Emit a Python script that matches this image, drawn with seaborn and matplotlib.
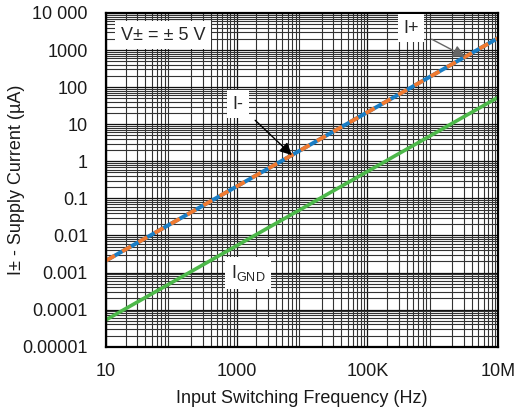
#supply current vs input switching frequency, log-log chart

import matplotlib
matplotlib.use("Agg")
import matplotlib.pyplot as plt
import matplotlib.ticker as mticker
import seaborn as sns
import pandas as pd

#data
freq = [10, 100, 1000, 10000, 100000, 1000000, 10000000]
i_neg = [0.0021, 0.021, 0.21, 2.1, 21, 210, 2100]
i_pos = [0.0021, 0.021, 0.21, 2.1, 21, 210, 2100]
i_gnd = [0.000053, 0.00053, 0.0053, 0.053, 0.53, 5.3, 53]

x_ticks = [10, 1000, 100000, 10000000]
x_labels = ["10", "1000", "100K", "10M"]
y_ticks = [0.00001, 0.0001, 0.001, 0.01, 0.1, 1, 10, 100, 1000, 10000]
y_labels = ["0.00001", "0.0001", "0.001", "0.01", "0.1", "1", "10", "100", "1000", "10 000"]

sns.set_style("white")
plt.rcParams['font.family'] = ['Liberation Sans', 'DejaVu Sans']

df = pd.DataFrame({"freq": freq, "i_neg": i_neg, "i_pos": i_pos, "i_gnd": i_gnd})

fig, ax = plt.subplots(figsize=(5.26, 4.15), dpi=100)
fig.subplots_adjust(left=0.2015, right=0.9468, top=0.9687, bottom=0.1646)

ax.set_xscale("log")
ax.set_yscale("log")

#grid lines first, so the curves sit on top
ax.grid(True, which="major", color="#111111", lw=0.9)
ax.grid(True, which="minor", color="#333333", lw=0.8)
ax.set_axisbelow(True)

# the three curves
sns.lineplot(data=df, x="freq", y="i_gnd", ax=ax, color="#4db84a", lw=2.6)
sns.lineplot(data=df, x="freq", y="i_neg", ax=ax, color="#1a7dc4", lw=2.8)
sns.lineplot(data=df, x="freq", y="i_pos", ax=ax, color="#f07a30", lw=2.8,
             linestyle=(0, (2.6, 2.2)))

ax.set_xlim(10, 10000000)
ax.set_ylim(0.00001, 10000)

ax.xaxis.set_major_locator(mticker.FixedLocator(x_ticks))
ax.xaxis.set_major_formatter(mticker.FixedFormatter(x_labels))
ax.yaxis.set_major_locator(mticker.FixedLocator(y_ticks))
ax.yaxis.set_major_formatter(mticker.FixedFormatter(y_labels))
ax.xaxis.set_minor_locator(mticker.LogLocator(base=10, subs=range(2, 10), numticks=20))
ax.yaxis.set_minor_locator(mticker.LogLocator(base=10, subs=range(2, 10), numticks=20))
ax.xaxis.set_minor_formatter(mticker.NullFormatter())
ax.yaxis.set_minor_formatter(mticker.NullFormatter())
ax.tick_params(which="both", length=0, labelsize=13, colors="#1a1a1a")
ax.tick_params(axis="x", pad=12)
ax.tick_params(axis="y", pad=13)

for side in ax.spines.values():
    side.set_visible(True)
    side.set_color("black")
    side.set_linewidth(1.6)

ax.set_xlabel("Input Switching Frequency (Hz)", fontsize=13, color="#1a1a1a", labelpad=7)
ax.set_ylabel("I\u00b1 - Supply Current (\u00b5A)", fontsize=13, color="#1a1a1a", labelpad=-2)

box = dict(facecolor="white", edgecolor="none", pad=4)

ax.text(0.145, 0.933, "V\u00b1 = \u00b1 5 V", transform=ax.transAxes, fontsize=13,
        ha="center", va="center", bbox=box)
ax.text(0.362, 0.221, "I$_{\\mathregular{GND}}$", transform=ax.transAxes, fontsize=13,
        ha="center", va="center", bbox=box)

#labels with arrows pointing to the curves
ax.annotate("I-", xy=(freq[3] * 0.7, i_neg[3] * 0.7), xytext=(0.337, 0.727),
            textcoords="axes fraction", fontsize=13, ha="center", va="center", bbox=box,
            arrowprops=dict(arrowstyle="-|>", color="black", lw=1, mutation_scale=18,
                            shrinkA=6, shrinkB=0))
ax.annotate("I+", xy=(3140000, 660), xytext=(0.778, 0.954),
            textcoords="axes fraction", fontsize=13, ha="center", va="center", bbox=box,
            arrowprops=dict(arrowstyle="-|>", color="#666666", lw=1, mutation_scale=18,
                            shrinkA=6, shrinkB=0))

plt.savefig("out.png", dpi=100)
